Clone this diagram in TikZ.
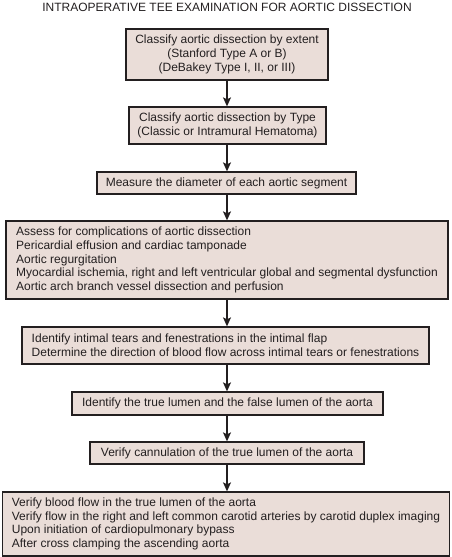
\documentclass[tikz,border=0pt]{standalone}
\usepackage{fontspec}
\setmainfont{Liberation Sans}
\usetikzlibrary{arrows.meta}
\definecolor{boxfill}{HTML}{EADDD8}
\definecolor{ink}{HTML}{231F20}
\begin{document}
\begin{tikzpicture}[x=1pt,y=-1pt,
  every node/.style={text=ink,font=\fontsize{12}{13.7}\selectfont},
  stepbox/.style={draw=ink,fill=boxfill,line width=1.3pt,rectangle,inner xsep=0pt,inner ysep=0pt,align=center},
  leftbox/.style={stepbox,align=left},
  flow/.style={draw=ink,line width=1.2pt,-{Stealth[length=9pt,width=8pt,inset=2pt]}}]
\useasboundingbox (0,0) rectangle (452,557);
\node (title) at (227,7) {INTRAOPERATIVE TEE EXAMINATION FOR AORTIC DISSECTION};
\node[stepbox,minimum width=202pt,minimum height=51pt] (b1) at (227,54.5)
  {Classify aortic dissection by extent\\(Stanford Type A or B)\\(DeBakey Type I, II, or III)};
\node[stepbox,minimum width=197pt,minimum height=37pt] (b2) at (227.5,125.5)
  {Classify aortic dissection by Type\\(Classic or Intramural Hematoma)};
\node[stepbox,minimum width=259pt,minimum height=22pt] (b3) at (226.5,183)
  {Measure the diameter of each aortic segment};
\node[leftbox,minimum width=442pt,minimum height=78pt] (b4) at (227,260)
  {Assess for complications of aortic dissection\\
   Pericardial effusion and cardiac tamponade\\
   Aortic regurgitation\\
   Myocardial ischemia, right and left ventricular global and segmental dysfunction\\
   Aortic arch branch vessel dissection and perfusion};
\node[leftbox,minimum width=407pt,minimum height=37pt] (b5) at (225.5,345.5)
  {Identify intimal tears and fenestrations in the intimal flap\\
   Determine the direction of blood flow across intimal tears or fenestrations};
\node[stepbox,minimum width=311pt,minimum height=23pt] (b6) at (227.5,403.5)
  {Identify the true lumen and the false lumen of the aorta};
\node[stepbox,minimum width=274pt,minimum height=22pt] (b7) at (227,453)
  {Verify cannulation of the true lumen of the aorta};
\node[leftbox,minimum width=447pt,minimum height=64pt] (b8) at (226,524)
  {Verify blood flow in the true lumen of the aorta\\
   Verify flow in the right and left common carotid arteries by carotid duplex imaging\\
   Upon initiation of cardiopulmonary bypass\\
   After cross clamping the ascending aorta};
\coordinate (ax) at (227,0);
\foreach \a/\b in {b1/b2,b2/b3,b3/b4,b4/b5,b5/b6,b6/b7,b7/b8}
  \draw[flow] (ax |- \a.south) -- (ax |- \b.north);
\end{tikzpicture}
\end{document}
